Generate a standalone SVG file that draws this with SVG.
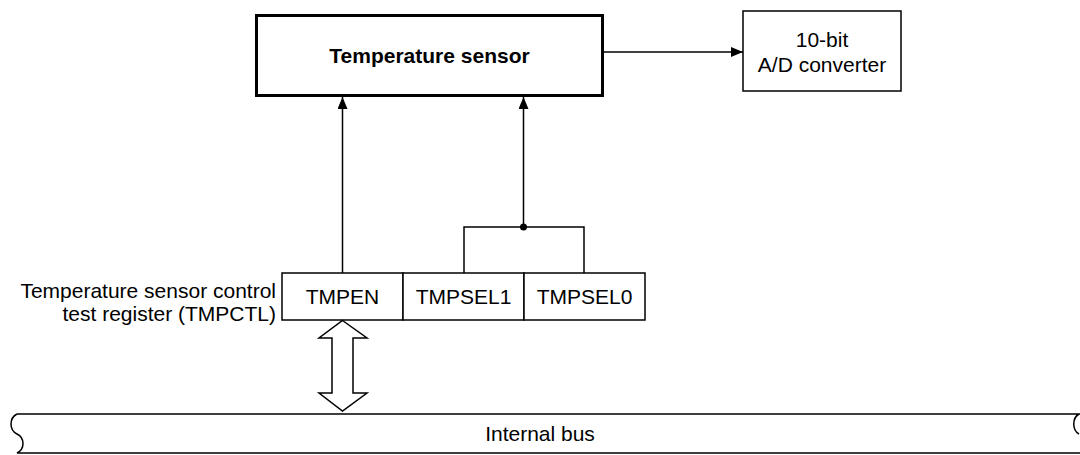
<svg xmlns="http://www.w3.org/2000/svg" width="1080" height="455" viewBox="0 0 1080 455">
<style>
text{font-family:"Liberation Sans",Arial,sans-serif;font-size:21px;fill:#000}
.b{font-weight:bold}
.box{fill:#fff;stroke:#000;stroke-width:1.5}
.thick{fill:#fff;stroke:#000;stroke-width:3}
.ln{fill:none;stroke:#000;stroke-width:1.5}
</style>
<defs>
<marker id="ah" viewBox="0 0 12 10" refX="12" refY="5" markerWidth="12" markerHeight="10" markerUnits="userSpaceOnUse" orient="auto">
<path d="M0,0 L12,5 L0,10 Z" fill="#000"/>
</marker>
</defs>
<g id="sensor">
<rect class="thick" x="256.5" y="15.5" width="346" height="80"/>
<text class="b" x="429.5" y="63" text-anchor="middle">Temperature sensor</text>
</g>
<g id="adc">
<rect class="box" x="743" y="11" width="158" height="80"/>
<text x="822" y="47" text-anchor="middle">10-bit</text>
<text x="822" y="72" text-anchor="middle">A/D converter</text>
</g>
<g id="register">
<text x="276" y="298" text-anchor="end">Temperature sensor control</text>
<text x="276" y="321" text-anchor="end">test register (TMPCTL)</text>
<rect class="box" x="282" y="273" width="121" height="47"/>
<rect class="box" x="403" y="273" width="121" height="47"/>
<rect class="box" x="524" y="273" width="121" height="47"/>
<text x="342.5" y="304" text-anchor="middle">TMPEN</text>
<text x="463.5" y="304" text-anchor="middle">TMPSEL1</text>
<text x="584.5" y="304" text-anchor="middle">TMPSEL0</text>
</g>
<g id="bus">
<path class="ln" d="M17,414 C9,418 9,430 17,434 C25,438 25,449 17,453 L1090,453 M17,414 L1080,414 M1079,414 C1072,418 1072,430 1079,434"/>
<text x="540" y="441" text-anchor="middle">Internal bus</text>
</g>
<g id="connectors">
<line class="ln" x1="604" y1="52" x2="743" y2="52" marker-end="url(#ah)"/>
<line class="ln" x1="342.5" y1="273" x2="342.5" y2="97" marker-end="url(#ah)"/>
<line class="ln" x1="523.5" y1="227" x2="523.5" y2="97" marker-end="url(#ah)"/>
<polyline class="ln" points="464,273 464,227 584,227 584,273"/>
<circle cx="523.5" cy="227" r="3.5" fill="#000"/>
<polygon class="box" points="342.5,320.5 367,338 353,338 353,393 367,393 342.5,411 319,393 332,393 332,338 319,338"/>
</g>
</svg>
